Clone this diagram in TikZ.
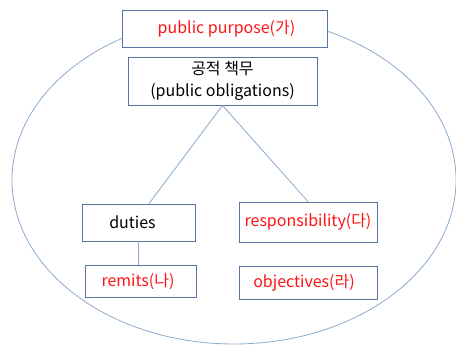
\documentclass[tikz,border=0pt]{standalone}
\usepackage{fontspec}
\setmainfont{Noto Sans CJK KR}
\usetikzlibrary{positioning}

\definecolor{boxline}{RGB}{84,118,160}
\definecolor{thinline}{RGB}{140,170,205}
\definecolor{redtext}{RGB}{255,20,20}

\begin{document}
\begin{tikzpicture}[x=1pt,y=-1pt]
\tikzset{every node/.style={inner sep=0pt},
  tbox/.style={draw=boxline,line width=0.9pt,fill=white,font=\fontsize{16}{22}\selectfont},
  red/.style={text=redtext}}
\useasboundingbox (0,0) rectangle (456,345);
% outer ellipse
\draw [thinline,line width=0.8pt] (234,180) ellipse [x radius=222,y radius=164];
% boxes
\node [tbox,red,minimum width=205pt,minimum height=37pt] (purpose) at (224.5,28.5) {\hspace*{4pt}public purpose(가)};
\node [tbox,minimum width=189pt,minimum height=48pt,align=center] (oblig) at (222.5,81) {공적 책무\\(public obligations)};
\node [tbox,minimum width=113pt,minimum height=37pt] (duties) at (138.5,222.5) {\hspace*{-12pt}duties};
\node [tbox,red,minimum width=138pt,minimum height=40pt] (resp) at (308,222) {responsibility(다)};
\node [tbox,red,minimum width=111pt,minimum height=32pt] (remits) at (140.5,281) {\hspace*{-5pt}remits(나)};
\node [tbox,red,minimum width=138pt,minimum height=33pt] (obj) at (308,282.5) {\hspace*{-8pt}objectives(라)};
% connectors
\draw [thinline,line width=0.8pt] (oblig.south) -- ([xshift=10.5pt]duties.north);
\draw [thinline,line width=0.8pt] (oblig.south) -- (resp.north);
\draw [thinline,line width=0.8pt] (duties.south) -- (duties.south |- remits.north);
\end{tikzpicture}
\end{document}
